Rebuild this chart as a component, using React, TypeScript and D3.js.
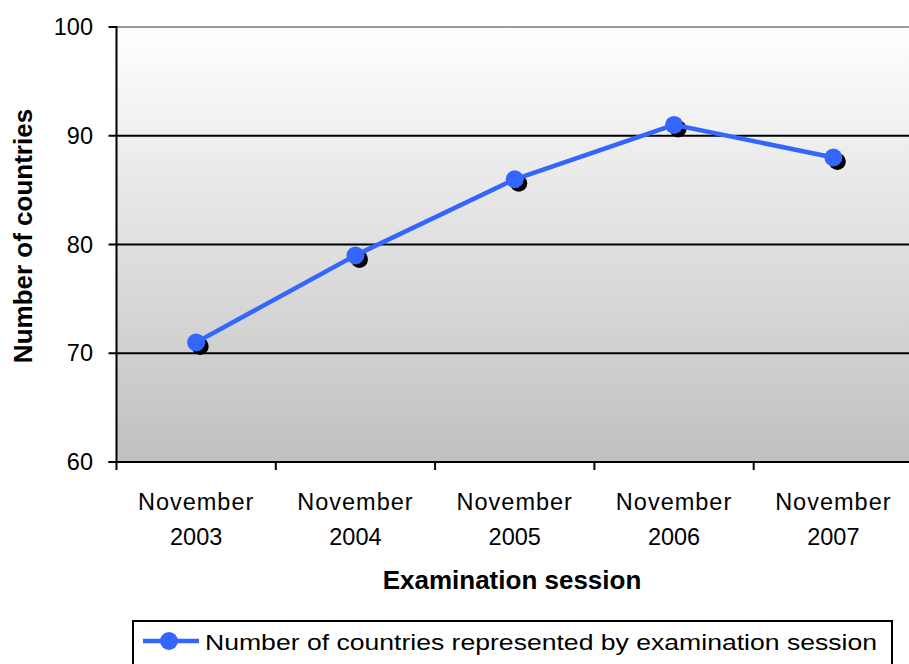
import React from "react";
import * as d3 from "d3";

const categories = ["November 2003", "November 2004", "November 2005", "November 2006", "November 2007"];
const values = [71, 79, 86, 91, 88];
const yTicks = [60, 70, 80, 90, 100];
const seriesName = "Number of countries represented by examination session";

export default function App() {
  const W = 909, H = 664;
  const left = 116.5, right = 913, top = 27, bottom = 462;
  const x = d3.scaleBand<string>().domain(categories).range([left, right]);
  const y = d3.scaleLinear().domain([60, 100]).range([bottom, top]);
  const cxOf = (i: number) => (x(categories[i]) as number) + x.bandwidth() / 2;
  const line = d3.line<number>()
    .x((_, i) => cxOf(i))
    .y((d) => y(d));
  const font = "'Liberation Sans', Arial, sans-serif";
  const blue = "#3366ff";
  return (
    <svg width={W} height={H} style={{ position: "absolute", left: 0, top: 0 }} fontFamily={font}>
      <defs>
        <linearGradient id="bg" x1="0" y1="0" x2="0" y2="1">
          <stop offset="0" stopColor="#ffffff" />
          <stop offset="1" stopColor="#c0c0c0" />
        </linearGradient>
      </defs>
      <rect x={left} y={top} width={right - left} height={bottom - top} fill="url(#bg)" />
      {yTicks.filter((t) => t > 60 && t < 100).map((t) => (
        <line key={t} x1={left} x2={right} y1={y(t)} y2={y(t)} stroke="#000" strokeWidth={2} />
      ))}
      <line x1={left} x2={right} y1={y(100)} y2={y(100)} stroke="#999" strokeWidth={2} />
      {/* y axis */}
      <line x1={left} x2={left} y1={top - 1} y2={bottom + 1} stroke="#000" strokeWidth={2} />
      {yTicks.map((t) => (
        <g key={t}>
          <line x1={left - 8} x2={left} y1={y(t)} y2={y(t)} stroke="#000" strokeWidth={2} />
          <text x={93} y={y(t) + 8} textAnchor="end" fontSize={23.5}>{t}</text>
        </g>
      ))}
      {/* x axis */}
      <line x1={left - 8} x2={right} y1={bottom} y2={bottom} stroke="#000" strokeWidth={2} />
      {categories.map((c, i) => {
        const x0 = x(c) as number;
        const cx = cxOf(i);
        const [m, yr] = c.split(" ");
        return (
          <g key={c}>
            <line x1={x0} x2={x0} y1={bottom} y2={bottom + 8} stroke="#000" strokeWidth={2} />
            <text x={cx} y={510} textAnchor="middle" fontSize={23.5} letterSpacing={1}>{m}</text>
            <text x={cx} y={545} textAnchor="middle" fontSize={23.5}>{yr}</text>
          </g>
        );
      })}
      <text x={512} y={589} textAnchor="middle" fontSize={26} fontWeight="bold">Examination session</text>
      <text transform={`translate(32,236) rotate(-90)`} textAnchor="middle" fontSize={26} fontWeight="bold">Number of countries</text>
      {/* shadows */}
      {values.map((v, i) => (
        <circle key={"s" + i} cx={cxOf(i) + 4} cy={y(v) + 4} r={8.5} fill="#000" />
      ))}
      <path d={line(values) || ""} fill="none" stroke={blue} strokeWidth={4.5} />
      {values.map((v, i) => (
        <circle key={"p" + i} cx={cxOf(i)} cy={y(v)} r={9} fill={blue} />
      ))}
      {/* legend */}
      <rect x={133} y={621} width={759} height={60} fill="#fff" stroke="#000" strokeWidth={2} />
      <line x1={143} x2={199} y1={641} y2={641} stroke={blue} strokeWidth={4.5} />
      <circle cx={169} cy={641} r={9} fill={blue} />
      <text x={205} y={650} fontSize={22} textLength={672} lengthAdjust="spacingAndGlyphs">{seriesName}</text>
    </svg>
  );
}
